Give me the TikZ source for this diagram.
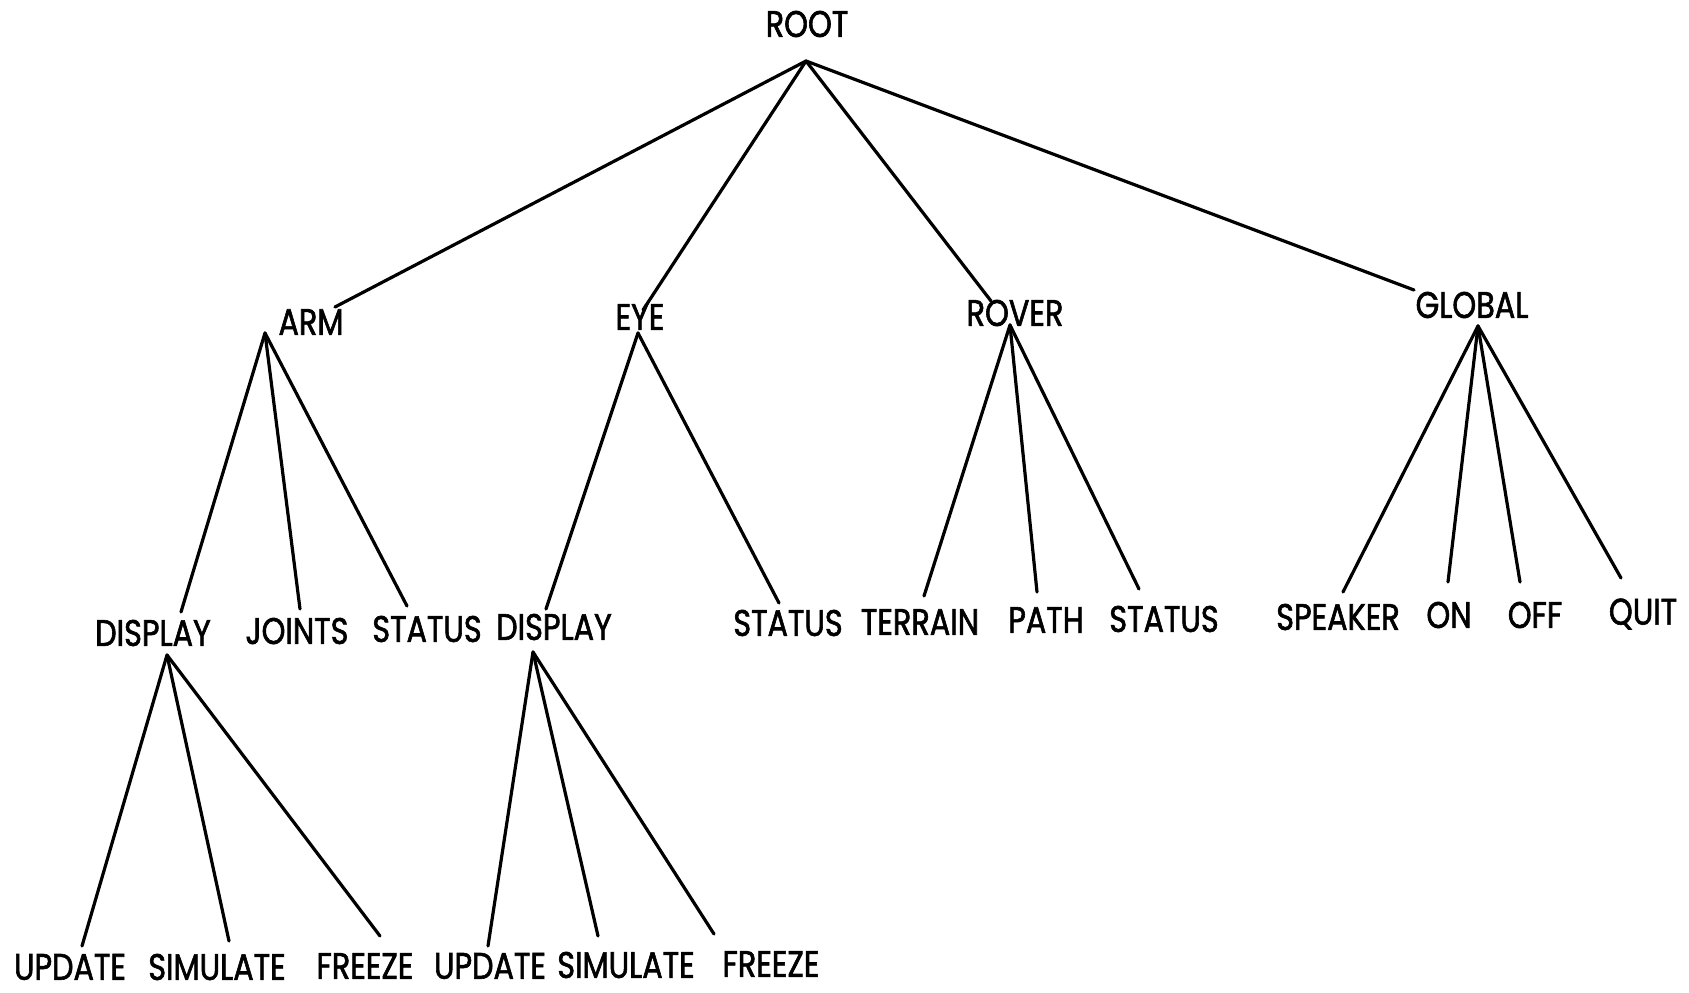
\documentclass[tikz,border=0pt]{standalone}
\usepackage{fontspec}
\setmainfont[FakeStretch=0.82,FakeBold=1.6]{Poppins}
\begin{document}
\begin{tikzpicture}[x=1pt,y=-1pt,
  lbl/.style={inner sep=0pt,font=\fontsize{37}{40}\selectfont},
  edge/.style={line width=3.2pt,line cap=round}]
\useasboundingbox (0,0) rectangle (1689,993);
% level 1
\node[lbl] (root) at (807,24) {ROOT};
\coordinate (rootA) at (806,61);
% level 2
\node[lbl] (arm) at (311,322) {ARM};
\node[lbl] (eye) at (640,317) {EYE};
\node[lbl] (rover) at (1015,313) {ROVER};
\node[lbl] (global) at (1472,305) {GLOBAL};
\coordinate (armT) at (335,307);
\coordinate (eyeT) at (643,310);
\coordinate (roverT) at (991,301);
\coordinate (globalT) at (1414,290);
\coordinate (armA) at (265,333);
\coordinate (eyeA) at (638,333);
\coordinate (roverA) at (1010,325);
\coordinate (globalA) at (1478,326);
% level 3
\node[lbl] (disp1) at (153,633) {DISPLAY};
\node[lbl] (joints) at (297,631) {JOINTS};
\node[lbl] (stat1) at (427,629) {STATUS};
\node[lbl] (disp2) at (554,627) {DISPLAY};
\node[lbl] (stat2) at (788,623) {STATUS};
\node[lbl] (terrain) at (920,622) {TERRAIN};
\node[lbl] (path) at (1046,620) {PATH};
\node[lbl] (stat3) at (1164,619) {STATUS};
\node[lbl] (speaker) at (1338,617) {SPEAKER};
\node[lbl] (on) at (1449,615) {ON};
\node[lbl] (off) at (1535,615) {OFF};
\node[lbl] (quit) at (1643,614) {QUIT};
\coordinate (disp1T) at (181,612);
\coordinate (jointsT) at (300,609);
\coordinate (stat1T) at (407,606);
\coordinate (disp2T) at (546,609);
\coordinate (stat2T) at (779,603);
\coordinate (terrainT) at (924,596);
\coordinate (pathT) at (1037,592);
\coordinate (stat3T) at (1139,589);
\coordinate (speakerT) at (1343,592);
\coordinate (onT) at (1448,582);
\coordinate (offT) at (1520,582);
\coordinate (quitT) at (1621,578);
\coordinate (disp1A) at (167,655);
\coordinate (disp2A) at (533,652);
% level 4
\node[lbl] (upd1) at (70,967) {UPDATE};
\node[lbl] (sim1) at (217,967) {SIMULATE};
\node[lbl] (frz1) at (365,966) {FREEZE};
\node[lbl] (upd2) at (490,966) {UPDATE};
\node[lbl] (sim2) at (626,965) {SIMULATE};
\node[lbl] (frz2) at (771,964) {FREEZE};
\coordinate (upd1T) at (82,946);
\coordinate (sim1T) at (229,941);
\coordinate (frz1T) at (380,936);
\coordinate (upd2T) at (488,946);
\coordinate (sim2T) at (598,936);
\coordinate (frz2T) at (714,934);
% edges
\draw[edge] (rootA) -- (armT);
\draw[edge] (rootA) -- (eyeT);
\draw[edge] (rootA) -- (roverT);
\draw[edge] (rootA) -- (globalT);
\draw[edge] (armA) -- (disp1T);
\draw[edge] (armA) -- (jointsT);
\draw[edge] (armA) -- (stat1T);
\draw[edge] (eyeA) -- (disp2T);
\draw[edge] (eyeA) -- (stat2T);
\draw[edge] (roverA) -- (terrainT);
\draw[edge] (roverA) -- (pathT);
\draw[edge] (roverA) -- (stat3T);
\draw[edge] (globalA) -- (speakerT);
\draw[edge] (globalA) -- (onT);
\draw[edge] (globalA) -- (offT);
\draw[edge] (globalA) -- (quitT);
\draw[edge] (disp1A) -- (upd1T);
\draw[edge] (disp1A) -- (sim1T);
\draw[edge] (disp1A) -- (frz1T);
\draw[edge] (disp2A) -- (upd2T);
\draw[edge] (disp2A) -- (sim2T);
\draw[edge] (disp2A) -- (frz2T);
\end{tikzpicture}
\end{document}
